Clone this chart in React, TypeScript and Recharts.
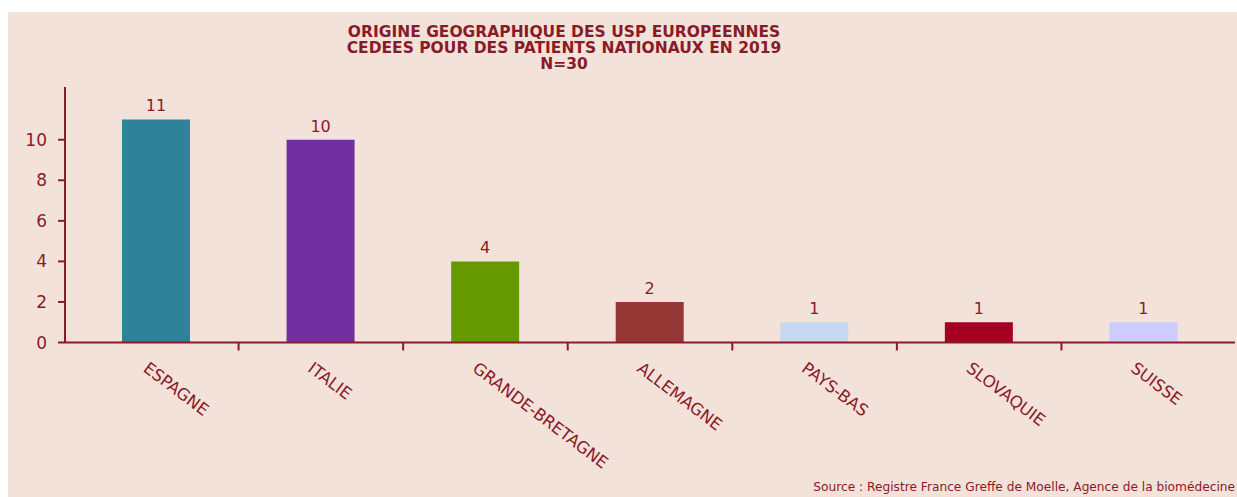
import React from 'react';
import { BarChart, Bar, XAxis, YAxis, Cell, LabelList } from 'recharts';

const countries = ['ESPAGNE', 'ITALIE', 'GRANDE-BRETAGNE', 'ALLEMAGNE', 'PAYS-BAS', 'SLOVAQUIE', 'SUISSE'];
const counts = [11, 10, 4, 2, 1, 1, 1];
const barColors = ['#2e8299', '#7030a0', '#669900', '#953735', '#c6d9f0', '#a50021', '#ccccff'];
const yTicks = [0, 2, 4, 6, 8, 10];
const titleLines = [
  'ORIGINE GEOGRAPHIQUE DES USP EUROPEENNES',
  'CEDEES POUR DES PATIENTS NATIONAUX EN 2019',
  'N=30',
];
const sourceNote = 'Source : Registre France Greffe de Moelle, Agence de la biomédecine';

const data = countries.map((name, i) => ({ name, value: counts[i] }));

const W = 1229;
const H = 485;
const INK = '#8b1a28';
const FONT = '"DejaVu Sans", Verdana, sans-serif';
const BAND = 164.6;

function CountryTick(props: any) {
  const { x, y, payload, index } = props;
  const ax = y - 12; // axis line position
  const lx = x - 14;
  const ly = ax + 28;
  return (
    <g>
      {index < countries.length - 1 && (
        <line x1={x + BAND / 2} y1={ax} x2={x + BAND / 2} y2={ax + 8} stroke={INK} strokeWidth={2} />
      )}
      <text
        x={lx}
        y={ly}
        transform={`rotate(37, ${lx}, ${ly})`}
        textAnchor="start"
        fill={INK}
        fontSize={16.5}
        fontFamily={FONT}
      >
        {payload.value}
      </text>
    </g>
  );
}

export default function App() {
  return (
    <div style={{ position: 'absolute', left: 8, top: 12, width: W, height: H, background: '#f3e2d9' }}>
      <BarChart width={W} height={H} data={data} margin={{ top: 75, right: 2, bottom: 124.5, left: 0 }}>
        <XAxis
          dataKey="name"
          height={30}
          padding={{ left: 9, right: 9 }}
          axisLine={{ stroke: INK, strokeWidth: 2 }}
          tickLine={false}
          tickMargin={0}
          tickSize={12}
          interval={0}
          tick={<CountryTick />}
        />
        <YAxis
          width={57}
          domain={[0, 12.6]}
          ticks={yTicks}
          axisLine={{ stroke: INK, strokeWidth: 2 }}
          tickLine={{ stroke: INK, strokeWidth: 2 }}
          tickSize={7}
          tickMargin={11}
          tick={{ fill: INK, fontSize: 17, fontFamily: FONT }}
        />
        <Bar dataKey="value" barSize={68} isAnimationActive={false}>
          {data.map((d, i) => (
            <Cell key={d.name} fill={barColors[i]} />
          ))}
          <LabelList dataKey="value" position="top" offset={8} fill={INK} fontSize={16} fontFamily={FONT} />
        </Bar>
      </BarChart>
      <svg width={W} height={H} style={{ position: 'absolute', left: 0, top: 0, pointerEvents: 'none' }}>
        {titleLines.map((t, i) => (
          <text
            key={t}
            x={556}
            y={25 + i * 16}
            textAnchor="middle"
            fill={INK}
            fontSize={15.5}
            fontWeight="bold"
            fontFamily={FONT}
          >
            {t}
          </text>
        ))}
        <text x={1227} y={479} textAnchor="end" fill={INK} fontSize={12.2} fontFamily={FONT}>
          {sourceNote}
        </text>
      </svg>
    </div>
  );
}
